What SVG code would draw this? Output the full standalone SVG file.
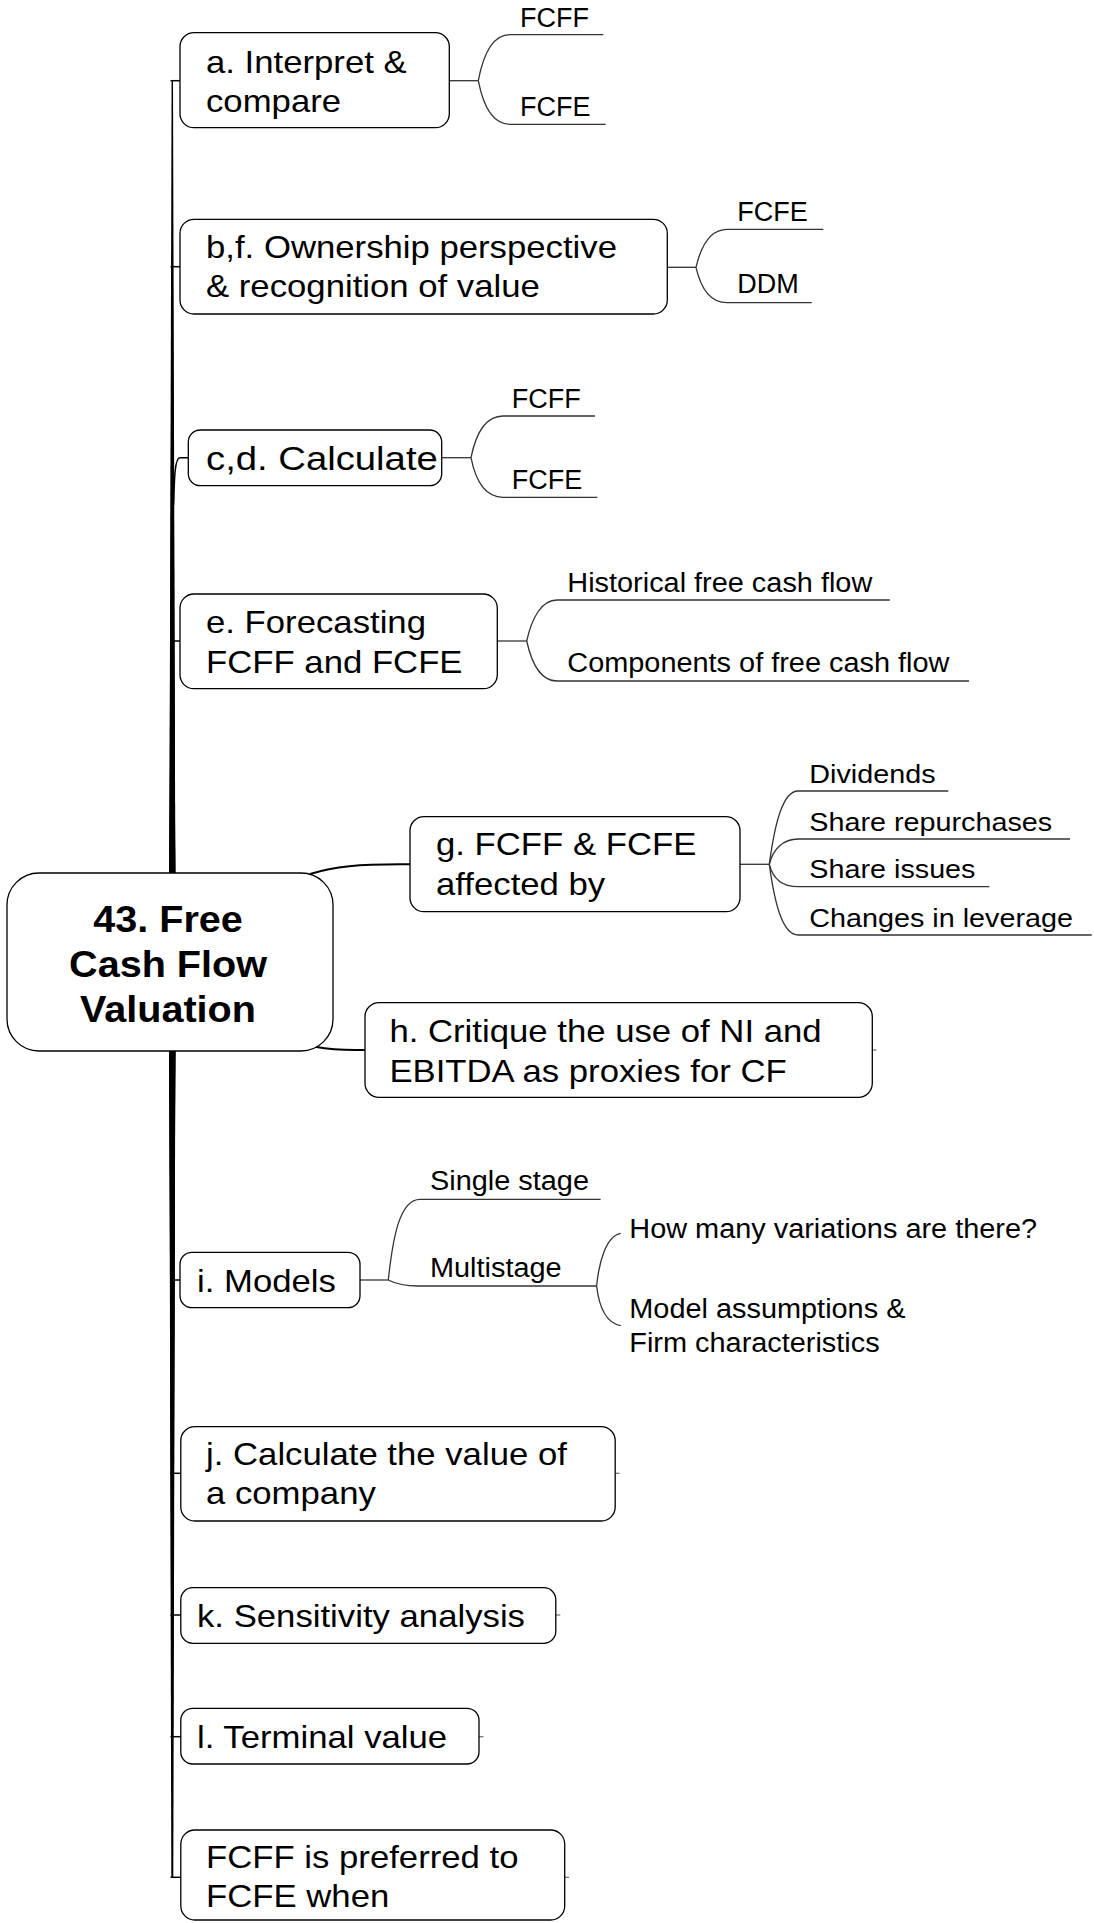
<svg xmlns="http://www.w3.org/2000/svg" width="1094" height="1923" viewBox="0 0 1094 1923">
  <style>
    .box { fill: #fff; stroke: #000; stroke-width: 1.3; }
    .main { font-family: "Liberation Sans", Arial, sans-serif; font-size: 31px; fill: #000; }
    .root { font-family: "Liberation Sans", Arial, sans-serif; font-size: 37px; font-weight: bold; fill: #000; text-anchor: middle; }
    .sub { font-family: "Liberation Sans", Arial, sans-serif; font-size: 27px; fill: #000; }
    .subg { font-family: "Liberation Sans", Arial, sans-serif; font-size: 25px; fill: #000; }
    .trunk { fill: #000; stroke: none; }
    .link { fill: none; stroke: #000; stroke-width: 1.5; }
    .rootlink { fill: none; stroke: #000; stroke-width: 2; }
    .leaf { fill: none; stroke: #333; stroke-width: 1.3; }
    .stub { fill: none; stroke: #777; stroke-width: 1.3; }
  </style>

  <!-- connectors -->
  <g id="connectors">
    <!-- tapered trunk branches from the central topic to the main topics -->
    <path class="trunk" d="M169.3,873 L175.3,873 L173,80.7 L171.6,80.7 Z"/>
    <path class="trunk" d="M169.3,873 L175.3,873 L173,266.7 L171.6,266.7 Z"/>
    <path class="trunk" d="M169.3,873 L175.3,873 L173,505 L171.6,505 Z"/>
    <path class="trunk" d="M169.3,873 L175.3,873 L173,641 L171.6,641 Z"/>
    <path class="trunk" d="M169.3,1051 L175.3,1051 L173,1280 L171.6,1280 Z"/>
    <path class="trunk" d="M169.3,1051 L175.3,1051 L173.1,1473.3 L171.5,1473.3 Z"/>
    <path class="trunk" d="M169.3,1051 L175.3,1051 L173.2,1615 L171.4,1615 Z"/>
    <path class="trunk" d="M169.3,1051 L175.3,1051 L173.2,1736.7 L171.4,1736.7 Z"/>
    <path class="trunk" d="M169.3,1051 L175.3,1051 L173.3,1877.3 L171.3,1877.3 Z"/>
    <!-- trunk ends entering each main topic -->
    <path class="link" d="M170.5,80.7 H180"/>
    <path class="link" d="M170.5,266.7 H180"/>
    <path class="link" d="M173.6,505 C174.4,476 175,457.7 180,457.7 H188.3"/>
    <path class="link" d="M170.5,641 H180"/>
    <path class="link" d="M170.5,1280 H180"/>
    <path class="link" d="M170.5,1473.3 H180.8"/>
    <path class="link" d="M170.5,1615 H180.8"/>
    <path class="link" d="M170.5,1736.7 H180.8"/>
    <path class="link" d="M170.5,1877.3 H180.8"/>
    <!-- side branches to g and h -->
    <path class="rootlink" d="M310,874 C335,866 360,864.3 400,864.3 H410"/>
    <path class="rootlink" d="M315,1046.7 C328,1049 340,1050 355,1050 H365"/>

    <!-- a -->
    <path class="leaf" d="M449.3,80.7 H478.3"/>
    <path class="leaf" d="M478.3,80.7 C483,56 492,34.7 510,34.7 H603.3"/>
    <path class="leaf" d="M478.3,80.7 C483,105 492,124.3 510,124.3 H605.7"/>
    <!-- b,f -->
    <path class="leaf" d="M667.3,267.3 H696"/>
    <path class="leaf" d="M696,267.3 C701,246 710,229.3 727,229.3 H823.3"/>
    <path class="leaf" d="M696,267.3 C701,289 710,302.7 727,302.7 H811.7"/>
    <!-- c,d -->
    <path class="leaf" d="M441.7,457.7 H471"/>
    <path class="leaf" d="M471,457.7 C476,433 486,416 503,416 H595"/>
    <path class="leaf" d="M471,457.7 C476,483 486,497.3 503,497.3 H597.3"/>
    <!-- e -->
    <path class="leaf" d="M497.3,641 H526.7"/>
    <path class="leaf" d="M526.7,641 C532,617 542,600 557,600 H889.8"/>
    <path class="leaf" d="M526.7,641 C532,665 542,681 557,681 H969"/>
    <!-- g -->
    <path class="leaf" d="M740,864.3 H769.3"/>
    <path class="leaf" d="M769.3,864.3 C775,822 783,791 798.3,791 H948.3"/>
    <path class="leaf" d="M769.3,864.3 C773,849 783,839 798.3,839 H1070"/>
    <path class="leaf" d="M769.3,864.3 C773,879 783,886.7 798.3,886.7 H989.3"/>
    <path class="leaf" d="M769.3,864.3 C775,906 783,935 798.3,935 H1091.7"/>
    <!-- i -->
    <path class="leaf" d="M360,1280 H388.3"/>
    <path class="leaf" d="M388.3,1280 C393,1236 400,1199.3 420,1199.3 H600.6"/>
    <path class="leaf" d="M388.3,1280 C396,1284 404,1286 418,1286 H596.6"/>
    <path class="leaf" d="M596.6,1286 C599,1262 606,1236 620.7,1233.3"/>
    <path class="leaf" d="M596.6,1286 C599,1306 606,1323 620.7,1325.7"/>
    <!-- collapsed-branch stubs -->
    <path class="stub" d="M872.3,1050 H876.5"/>
    <path class="stub" d="M615.2,1473.3 H619.6"/>
    <path class="stub" d="M555.8,1615 H560.3"/>
    <path class="stub" d="M479,1736.7 H483.5"/>
    <path class="stub" d="M564.7,1877.3 H569.2"/>
  </g>

  <!-- central topic -->
  <g id="root">
    <rect class="box" x="7" y="873" width="326" height="178" rx="32"/>
    <g transform="translate(168 0) scale(1.07 1)">
      <text class="root" x="0" y="931.7">43. Free</text>
      <text class="root" x="0" y="977.5">Cash Flow</text>
      <text class="root" x="0" y="1021.7">Valuation</text>
    </g>
  </g>

  <g id="node-a">
    <rect class="box" x="180" y="32.7" width="269.3" height="95" rx="14"/>
    <g transform="translate(206 0) scale(1.12 1)">
      <text class="main" x="0" y="73.3">a. Interpret &amp;</text>
      <text class="main" x="0" y="111.7">compare</text>
    </g>
  </g>
  <g id="node-a-fcff"><text class="sub" x="520" y="26.7">FCFF</text></g>
  <g id="node-a-fcfe"><text class="sub" x="520" y="116">FCFE</text></g>

  <g id="node-bf">
    <rect class="box" x="180" y="219.3" width="487.3" height="94.7" rx="14"/>
    <g transform="translate(206 0) scale(1.12 1)">
      <text class="main" x="0" y="258.3">b,f. Ownership perspective</text>
      <text class="main" x="0" y="296.7">&amp; recognition of value</text>
    </g>
  </g>
  <g id="node-bf-fcfe"><text class="sub" x="737.3" y="220.7">FCFE</text></g>
  <g id="node-bf-ddm"><text class="sub" x="737.3" y="293.3">DDM</text></g>

  <g id="node-cd">
    <rect class="box" x="188.3" y="430" width="253.4" height="55.7" rx="12"/>
    <g transform="translate(206 0) scale(1.16 1)">
      <text class="main" style="font-size:33px" x="0" y="470">c,d. Calculate</text>
    </g>
  </g>
  <g id="node-cd-fcff"><text class="sub" x="511.7" y="408.3">FCFF</text></g>
  <g id="node-cd-fcfe"><text class="sub" x="511.7" y="489.3">FCFE</text></g>

  <g id="node-e">
    <rect class="box" x="180" y="594" width="317.3" height="94.7" rx="14"/>
    <g transform="translate(206 0) scale(1.12 1)">
      <text class="main" x="0" y="633.3">e. Forecasting</text>
      <text class="main" x="0" y="672.7">FCFF and FCFE</text>
    </g>
  </g>
  <g id="node-e-hist">
    <g transform="translate(567.3 0) scale(1.07 1)"><text class="sub" x="0" y="591.7">Historical free cash flow</text></g>
  </g>
  <g id="node-e-comp">
    <g transform="translate(567.3 0) scale(1.07 1)"><text class="sub" x="0" y="671.7">Components of free cash flow</text></g>
  </g>

  <g id="node-g">
    <rect class="box" x="410" y="816.7" width="330" height="95" rx="14"/>
    <g transform="translate(436 0) scale(1.12 1)">
      <text class="main" x="0" y="855">g. FCFF &amp; FCFE</text>
      <text class="main" x="0" y="895">affected by</text>
    </g>
  </g>
  <g id="node-g-sub">
    <g transform="translate(809.3 0) scale(1.15 1)">
      <text class="subg" x="0" y="783.3">Dividends</text>
      <text class="subg" x="0" y="830.7">Share repurchases</text>
      <text class="subg" x="0" y="878.3">Share issues</text>
      <text class="subg" x="0" y="926.7">Changes in leverage</text>
    </g>
  </g>

  <g id="node-h">
    <rect class="box" x="365" y="1002.7" width="507.3" height="94.6" rx="14"/>
    <g transform="translate(389.4 0) scale(1.12 1)">
      <text class="main" x="0" y="1041.7">h. Critique the use of NI and</text>
      <text class="main" x="0" y="1081.7">EBITDA as proxies for CF</text>
    </g>
  </g>

  <g id="node-i">
    <rect class="box" x="180" y="1252.3" width="180" height="55.4" rx="12"/>
    <g transform="translate(197 0) scale(1.12 1)">
      <text class="main" x="0" y="1291.7">i. Models</text>
    </g>
  </g>
  <g id="node-i-sub">
    <g transform="translate(430 0) scale(1.07 1)">
      <text class="sub" x="0" y="1190.5">Single stage</text>
      <text class="sub" x="0" y="1276.7">Multistage</text>
    </g>
    <g transform="translate(629.3 0) scale(1.07 1)">
      <text class="sub" x="0" y="1238.3">How many variations are there?</text>
      <text class="sub" x="0" y="1318.3">Model assumptions &amp;</text>
      <text class="sub" x="0" y="1351.7">Firm characteristics</text>
    </g>
  </g>

  <g id="node-j">
    <rect class="box" x="180.8" y="1426.7" width="434.4" height="94.3" rx="14"/>
    <g transform="translate(206 0) scale(1.12 1)">
      <text class="main" x="0" y="1465">j. Calculate the value of</text>
      <text class="main" x="0" y="1504.3">a company</text>
    </g>
  </g>

  <g id="node-k">
    <rect class="box" x="180.8" y="1587.7" width="375" height="55.6" rx="12"/>
    <g transform="translate(197 0) scale(1.12 1)">
      <text class="main" x="0" y="1626.7">k. Sensitivity analysis</text>
    </g>
  </g>

  <g id="node-l">
    <rect class="box" x="180.8" y="1708.3" width="298.2" height="55.7" rx="12"/>
    <g transform="translate(197 0) scale(1.12 1)">
      <text class="main" x="0" y="1748.3">l. Terminal value</text>
    </g>
  </g>

  <g id="node-pref">
    <rect class="box" x="180.8" y="1830" width="383.9" height="90" rx="14"/>
    <g transform="translate(206 0) scale(1.12 1)">
      <text class="main" x="0" y="1868.3">FCFF is preferred to</text>
      <text class="main" x="0" y="1906.7">FCFE when</text>
    </g>
  </g>
</svg>
